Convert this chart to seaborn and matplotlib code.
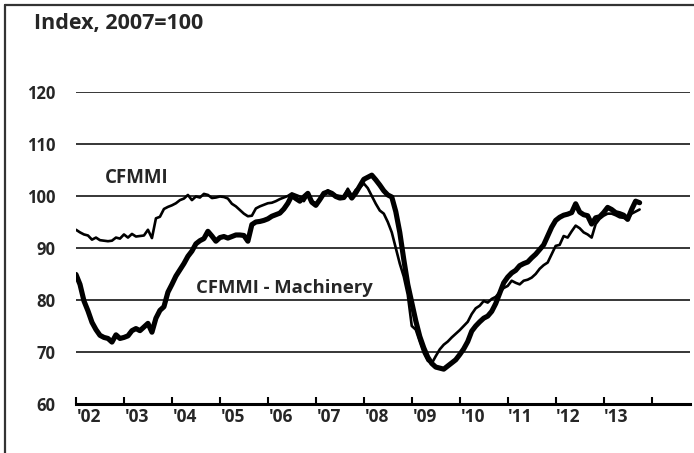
# CFMMI vs CFMMI - Machinery, monthly index (2007=100)
import numpy as np
import pandas as pd
import matplotlib
matplotlib.use('Agg')
import matplotlib.pyplot as plt
from matplotlib.lines import Line2D
import seaborn as sns

# valores, jan/2002 a out/2013
cfmmi = [
    93.5, 93.0, 92.6, 92.4, 91.6, 92.0, 91.5, 91.4, 91.3, 91.4, 92.0, 91.8,
    92.6, 92.0, 92.7, 92.2, 92.3, 92.4, 93.5, 91.9, 95.7, 96.0, 97.5, 97.9,
    98.2, 98.6, 99.2, 99.5, 100.2, 99.2, 99.9, 99.7, 100.4, 100.2, 99.6, 99.7,
    99.9, 99.8, 99.5, 98.5, 98.0, 97.3, 96.6, 96.1, 96.2, 97.6, 98.0, 98.3,
    98.6, 98.7, 99.0, 99.4, 99.7, 100.0, 100.5, 100.2, 99.9, 99.0, 100.2, 99.0,
    98.6, 99.2, 100.2, 101.1, 100.6, 100.1, 100.0, 99.9, 101.4, 100.0, 101.2, 101.6,
    102.4, 101.5, 100.0, 98.5, 97.2, 96.6, 95.0, 93.0, 90.0, 87.0, 84.5, 81.0,
    75.0, 74.3, 72.0, 69.8, 68.3, 67.8, 69.2, 70.5, 71.4, 72.0, 72.8, 73.5,
    74.2, 75.0, 75.8, 77.3, 78.4, 78.9, 79.8, 79.5, 80.2, 80.6, 81.5, 82.3,
    82.7, 83.7, 83.3, 83.0, 83.7, 83.9, 84.3, 85.0, 86.0, 86.7, 87.2, 88.8,
    90.4, 90.6, 92.3, 92.0, 93.2, 94.3, 93.8, 93.0, 92.6, 92.0, 94.6, 95.6,
    96.2, 96.6, 96.6, 96.3, 95.9, 95.8, 95.5, 96.6, 97.0, 97.4,
]
machinery = [
    84.9, 83.0, 79.8, 77.9, 75.7, 74.3, 73.2, 72.8, 72.6, 71.9, 73.3, 72.6,
    72.8, 73.1, 74.1, 74.5, 74.1, 74.8, 75.5, 73.8, 76.5, 78.0, 78.7, 81.5,
    83.0, 84.6, 85.8, 87.0, 88.4, 89.4, 90.8, 91.4, 91.8, 93.2, 92.3, 91.3,
    92.0, 92.2, 91.9, 92.2, 92.5, 92.5, 92.4, 91.3, 94.5, 95.0, 95.1, 95.3,
    95.6, 96.1, 96.4, 96.7, 97.5, 98.6, 100.1, 99.5, 99.0, 99.8, 100.5, 98.8,
    98.2, 99.3, 100.5, 100.8, 100.5, 99.9, 99.6, 99.7, 100.8, 99.6, 100.6, 101.9,
    103.2, 103.6, 104.0, 103.1, 102.1, 101.0, 100.2, 99.8, 97.0, 93.0, 87.8, 83.0,
    79.5, 76.0, 73.0, 70.8, 69.0, 67.8, 67.1, 66.9, 66.7, 67.3, 67.9, 68.5,
    69.5, 70.6, 72.0, 74.0, 75.0, 75.8, 76.5, 76.9, 77.8, 79.3, 81.3, 83.3,
    84.4, 85.2, 85.7, 86.6, 87.0, 87.3, 88.1, 88.8, 89.7, 90.6, 92.3, 94.0,
    95.3, 95.9, 96.3, 96.5, 96.8, 98.5, 96.9, 96.4, 96.2, 94.6, 95.8, 96.0,
    96.8, 97.8, 97.4, 96.8, 96.6, 96.3, 95.5, 97.4, 99.0, 98.7,
]
anos = list(range(2002, 2015))
rotulos_x = ["'02", "'03", "'04", "'05", "'06", "'07", "'08", "'09", "'10", "'11", "'12", "'13"]
rotulos_y = [60, 70, 80, 90, 100, 110, 120]

datas = pd.date_range('2002-01-01', periods=len(cfmmi), freq='MS')
df = pd.DataFrame({
    'ano': datas.year + (datas.month - 1) / 12,
    'CFMMI': cfmmi,
    'Machinery': machinery,
})

sns.set_style('white')
plt.rcParams['font.family'] = ['Open Sans', 'DejaVu Sans']
plt.rcParams['font.weight'] = 'bold'

fig = plt.figure(figsize=(6.94, 4.53), dpi=100)
ax = fig.add_axes([0.1095, 0.1082, 0.8847, 0.6888])

# linhas de grade horizontais
for v in rotulos_y[1:]:
    ax.axhline(v, color='black', lw=1.1, zorder=1)

sns.lineplot(data=df, x='ano', y='Machinery', color='black', lw=3.7, ax=ax, zorder=3)
sns.lineplot(data=df, x='ano', y='CFMMI', color='black', lw=1.9, ax=ax, zorder=4)

ax.set_xlim(2002, 2014.8)
ax.set_ylim(60, 120)
ax.set_xticks(anos)
ax.set_xticklabels([])
ax.set_xticks([a + 0.27 for a in anos[:-1]], minor=True)
ax.set_xticklabels(rotulos_x, minor=True, fontsize=12.5, fontweight='bold')
ax.tick_params(axis='x', which='major', bottom=True, direction='in', length=5, width=1.5, color='black')
ax.tick_params(axis='x', which='minor', bottom=True, length=0, pad=3)
ax.set_yticks(rotulos_y)
ax.set_yticklabels([str(v) for v in rotulos_y], fontsize=12, fontweight='bold')
ax.tick_params(axis='y', length=0, pad=15)
ax.set_xlabel('')
ax.set_ylabel('')

for s in ['top', 'right', 'left']:
    ax.spines[s].set_visible(False)
ax.spines['bottom'].set_linewidth(2.2)
ax.spines['bottom'].set_color('black')
ax.spines['bottom'].set_zorder(5)

ax.text(2002.6, 103.5, 'CFMMI', fontsize=13.5, fontweight='bold', va='center')
ax.text(2004.5, 82.3, 'CFMMI - Machinery', fontsize=13.3, fontweight='bold', va='center')

fig.text(34 / 694, 1 - 23 / 453, 'Index, 2007=100', fontsize=15.5, fontweight='bold', va='center')

# moldura (esquerda e topo)
fig.add_artist(Line2D([0.0065, 0.0065], [0, 0.989], transform=fig.transFigure, color='#333333', lw=1.6))
fig.add_artist(Line2D([0.0065, 1.0], [0.989, 0.989], transform=fig.transFigure, color='#333333', lw=1.6))

fig.savefig('out.png', dpi=100)
